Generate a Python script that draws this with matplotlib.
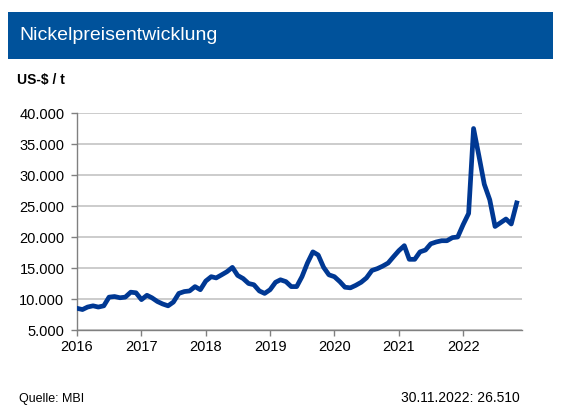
import matplotlib
matplotlib.use("Agg")
import matplotlib.dates as mdates
import matplotlib.pyplot as plt
import pandas as pd
from matplotlib.patches import Rectangle
from matplotlib.ticker import FuncFormatter

plt.rcParams["font.family"] = ["Liberation Sans", "DejaVu Sans"]

# Monthly nickel price, US-$ / t
start_month = "2016-01-01"
prices_2016 = [8500, 8300, 8700, 8900, 8700, 8900, 10300, 10400, 10200, 10300, 11100, 11000]
prices_2017 = [9900, 10600, 10200, 9600, 9200, 8900, 9500, 10900, 11200, 11300, 12000, 11500]
prices_2018 = [12900, 13600, 13400, 13900, 14400, 15100, 13800, 13300, 12500, 12300, 11300, 10900]
prices_2019 = [11500, 12700, 13100, 12800, 12000, 12000, 13600, 15800, 17600, 17100, 15100, 13900]
prices_2020 = [13600, 12800, 11900, 11800, 12200, 12700, 13400, 14600, 14900, 15300, 15800, 16800]
prices_2021 = [17800, 18600, 16400, 16400, 17600, 17900, 18900, 19200, 19400, 19400, 19900, 20000]
prices_2022 = [22000, 23800, 37500, 33000, 28500, 26000, 21700, 22300, 22900, 22100, 25500]

title = "Nickelpreisentwicklung"
unit_label = "US-$ / t"
source_text = "Quelle: MBI"
last_value_text = "30.11.2022: 26.510"
y_ticks = [5000, 10000, 15000, 20000, 25000, 30000, 35000, 40000]
x_years = [2016, 2017, 2018, 2019, 2020, 2021, 2022]

prices = prices_2016 + prices_2017 + prices_2018 + prices_2019 + prices_2020 + prices_2021 + prices_2022
dates = pd.date_range(start_month, periods=len(prices), freq="MS")

blue_header = "#00529b"
line_blue = "#003893"

fig = plt.figure(figsize=(5.65, 4.19), dpi=100)

# Header band
fig.patches.append(Rectangle((8 / 565, 1 - 59 / 419), 545 / 565, 47 / 419,
                             transform=fig.transFigure, facecolor=blue_header, edgecolor="none"))
fig.text(19 / 565, 1 - 36 / 419, title, color="white", fontsize=14, va="center", ha="left")
fig.text(17 / 565, 1 - 80 / 419, unit_label, fontsize=10, fontweight="bold", va="center", ha="left")

ax = fig.add_axes([77 / 565, 89 / 419, 445 / 565, 217 / 419])
ax.plot(dates, prices, color=line_blue, linewidth=3.4, solid_joinstyle="round", zorder=3)

ax.set_ylim(5000, 40000)
ax.set_xlim(pd.Timestamp("2016-01-01"), pd.Timestamp("2022-12-01"))
ax.set_yticks(y_ticks)
ax.yaxis.set_major_formatter(FuncFormatter(lambda v, p: f"{int(v):,}".replace(",", ".")))
ax.set_xticks([pd.Timestamp(f"{y}-01-01") for y in x_years])
ax.xaxis.set_major_formatter(mdates.DateFormatter("%Y"))

ax.grid(axis="y", color="#c8c8c8", linewidth=1.3)
ax.set_axisbelow(True)
for side in ["top", "right"]:
    ax.spines[side].set_visible(False)
for side in ["left", "bottom"]:
    ax.spines[side].set_color("#808080")
    ax.spines[side].set_linewidth(1.0)
ax.tick_params(axis="both", length=4, width=1, color="#808080", labelsize=10.5, labelcolor="black")
ax.tick_params(axis="y", pad=5)
ax.tick_params(axis="x", pad=3)

fig.text(19 / 565, 1 - 399 / 419, source_text, fontsize=9, va="center", ha="left")
fig.text(520 / 565, 1 - 398 / 419, last_value_text, fontsize=10, va="center", ha="right")

fig.savefig("out.png", dpi=100)
